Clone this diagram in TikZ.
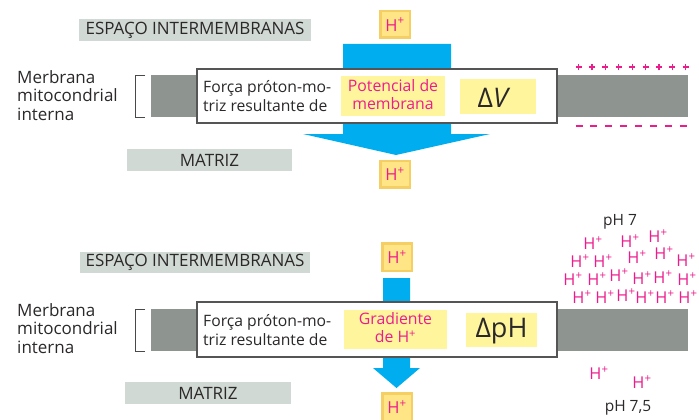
\documentclass[tikz,border=0pt]{standalone}
\usepackage{fontspec}
\setmainfont{Open Sans}
\definecolor{membr}{HTML}{8E9591}
\definecolor{lblbg}{HTML}{D1D9D4}
\definecolor{arrowblue}{HTML}{00AEEF}
\definecolor{ylw}{HTML}{FFF59D}
\definecolor{hout}{HTML}{F5CF63}
\definecolor{hin}{HTML}{FFE585}
\definecolor{mag}{HTML}{EC1C8C}
\definecolor{txt}{HTML}{2B2829}
\definecolor{bord}{HTML}{555555}
\newcommand{\Hp}{H\textsuperscript{+}}
\tikzset{
  lbl/.style={fill=lblbg, inner sep=0pt, text=txt, font=\fontsize{17}{19}\selectfont},
  wbox/.style={draw=bord, line width=1.3pt, fill=white, inner sep=0pt},
  ybox/.style={fill=ylw, inner sep=0pt},
  hbevel/.style={fill=hout, inner sep=0pt, minimum width=32pt, minimum height=29pt, text=mag,
     font=\fontsize{16.5}{19}\selectfont,
     path picture={\fill[hin] ([shift={(2.5pt,-2.5pt)}]path picture bounding box.north west) rectangle ([shift={(-2.5pt,2.5pt)}]path picture bounding box.south east);}},
  mtext/.style={text=mag, align=center, font=\fontsize{15.8}{18}\selectfont, inner sep=0pt},
  btext/.style={text=txt, align=left, font=\fontsize{15.7}{19}\selectfont, inner sep=0pt},
  side/.style={text=txt, align=left, font=\fontsize{17}{18.5}\selectfont, inner sep=0pt},
  hs/.style={text=mag, font=\fontsize{16.3}{17}\selectfont, inner sep=0pt},
  ph/.style={text=txt, font=\fontsize{15.5}{17}\selectfont, inner sep=0pt},
  brk/.style={draw=txt!85, line width=1pt},
  sign/.style={draw=mag, line width=1.2pt},
}
\begin{document}
\begin{tikzpicture}[x=1pt,y=-1pt]
\useasboundingbox (0,0) rectangle (699,420);
% ================= TOP PANEL =================
\node[lbl, minimum width=232pt, minimum height=22pt] (esp1) at (195,30) {ESPAÇO INTERMEMBRANAS};
\node[lbl, minimum width=165pt, minimum height=22pt] (mat1) at (209.5,160) {MATRIZ};
\node[side, anchor=west] (mer1) at (17,95.5) {Merbrana\\mitocondrial\\interna};
\draw[brk] (145,75.5) -- (135.5,75.5) -- (135.5,117) -- (145,117);
\fill[membr] (151,75) rectangle (688,117);
\fill[arrowblue] (343,44) -- (451,44) -- (451,134) -- (490,134) -- (396,155) -- (303,134) -- (343,134) -- cycle;
\node[wbox, minimum width=360pt, minimum height=54pt] (wb1) at (377,96) {};
\node[btext, anchor=west] (f1) at (203,96.5) {Força próton-mo-\\triz resultante de};
\node[ybox, minimum width=104pt, minimum height=40pt] (pot) at (393,96) {};
\node[mtext] (pott) at (393,94.5) {Potencial de\\membrana};
\node[ybox, minimum width=76pt, minimum height=35pt] (dv) at (498,96.5) {};
\node[text=txt, font=\fontsize{27}{30}\selectfont, inner sep=0pt] (dvt) at (494,98) {Δ\textit{V}};
\node[hbevel] (h1a) at (395,24.5) {\Hp};
\node[hbevel] (h1b) at (395,174) {\Hp};
\foreach \i in {0,...,8} {
  \coordinate (pl\i) at ({578.5+\i*13.4},67);
  \draw[sign] ([xshift=-3pt]pl\i) -- ([xshift=3pt]pl\i) ([yshift=-3.4pt]pl\i) -- ([yshift=3.4pt]pl\i);
}
\foreach \i in {0,...,7} {
  \coordinate (mi\i) at ({579+\i*14.9},126);
  \draw[sign, line width=1.1pt] ([xshift=-3.5pt]mi\i) -- ([xshift=3.5pt]mi\i);
}
% ================= BOTTOM PANEL =================
\node[lbl, minimum width=230pt, minimum height=21pt] (esp2) at (195,262.5) {ESPAÇO INTERMEMBRANAS};
\node[lbl, minimum width=166pt, minimum height=22pt] (mat2) at (208,393) {MATRIZ};
\node[side, anchor=west] (mer2) at (17,328.5) {Merbrana\\mitocondrial\\interna};
\draw[brk] (145,309) -- (135.5,309) -- (135.5,351.5) -- (145,351.5);
\fill[membr] (151,309) rectangle (688,351);
\fill[arrowblue] (383,278) -- (410,278) -- (410,368) -- (420,368) -- (396.5,388) -- (373,368) -- (383,368) -- cycle;
\node[wbox, minimum width=360pt, minimum height=55pt] (wb2) at (377,329.5) {};
\node[btext, anchor=west] (f2) at (203,330) {Força próton-mo-\\triz resultante de};
\node[ybox, minimum width=103pt, minimum height=39pt] (grad) at (395.5,329.5) {};
\node[mtext] (gradt) at (395.5,328) {Gradiente\\de \Hp};
\node[ybox, minimum width=71pt, minimum height=34pt] (dph) at (501.5,330) {};
\node[text=txt, font=\fontsize{27}{30}\selectfont, inner sep=0pt] (dpht) at (501.5,331) {ΔpH};
\node[hbevel, minimum height=30pt] (h2a) at (397,257) {\Hp};
\node[hbevel, minimum height=30pt] (h2b) at (397,407) {\Hp};
\node[ph] (ph7) at (620,222) {pH 7};
\node[ph] (ph75) at (628,408) {pH 7,5};
\foreach \x/\y [count=\k] in {593/243, 630/241, 658/236,
  580/261, 603/261, 637/257, 664/253, 686/260,
  573/279, 597/279, 619/275, 642/278, 663/277, 687/279,
  582/297, 605/297, 626/295, 645/297, 665/297, 688/297,
  599/373, 642/382} {
  \node[hs] (hp\k) at (\x,\y) {\Hp};
}
\end{tikzpicture}
\end{document}
